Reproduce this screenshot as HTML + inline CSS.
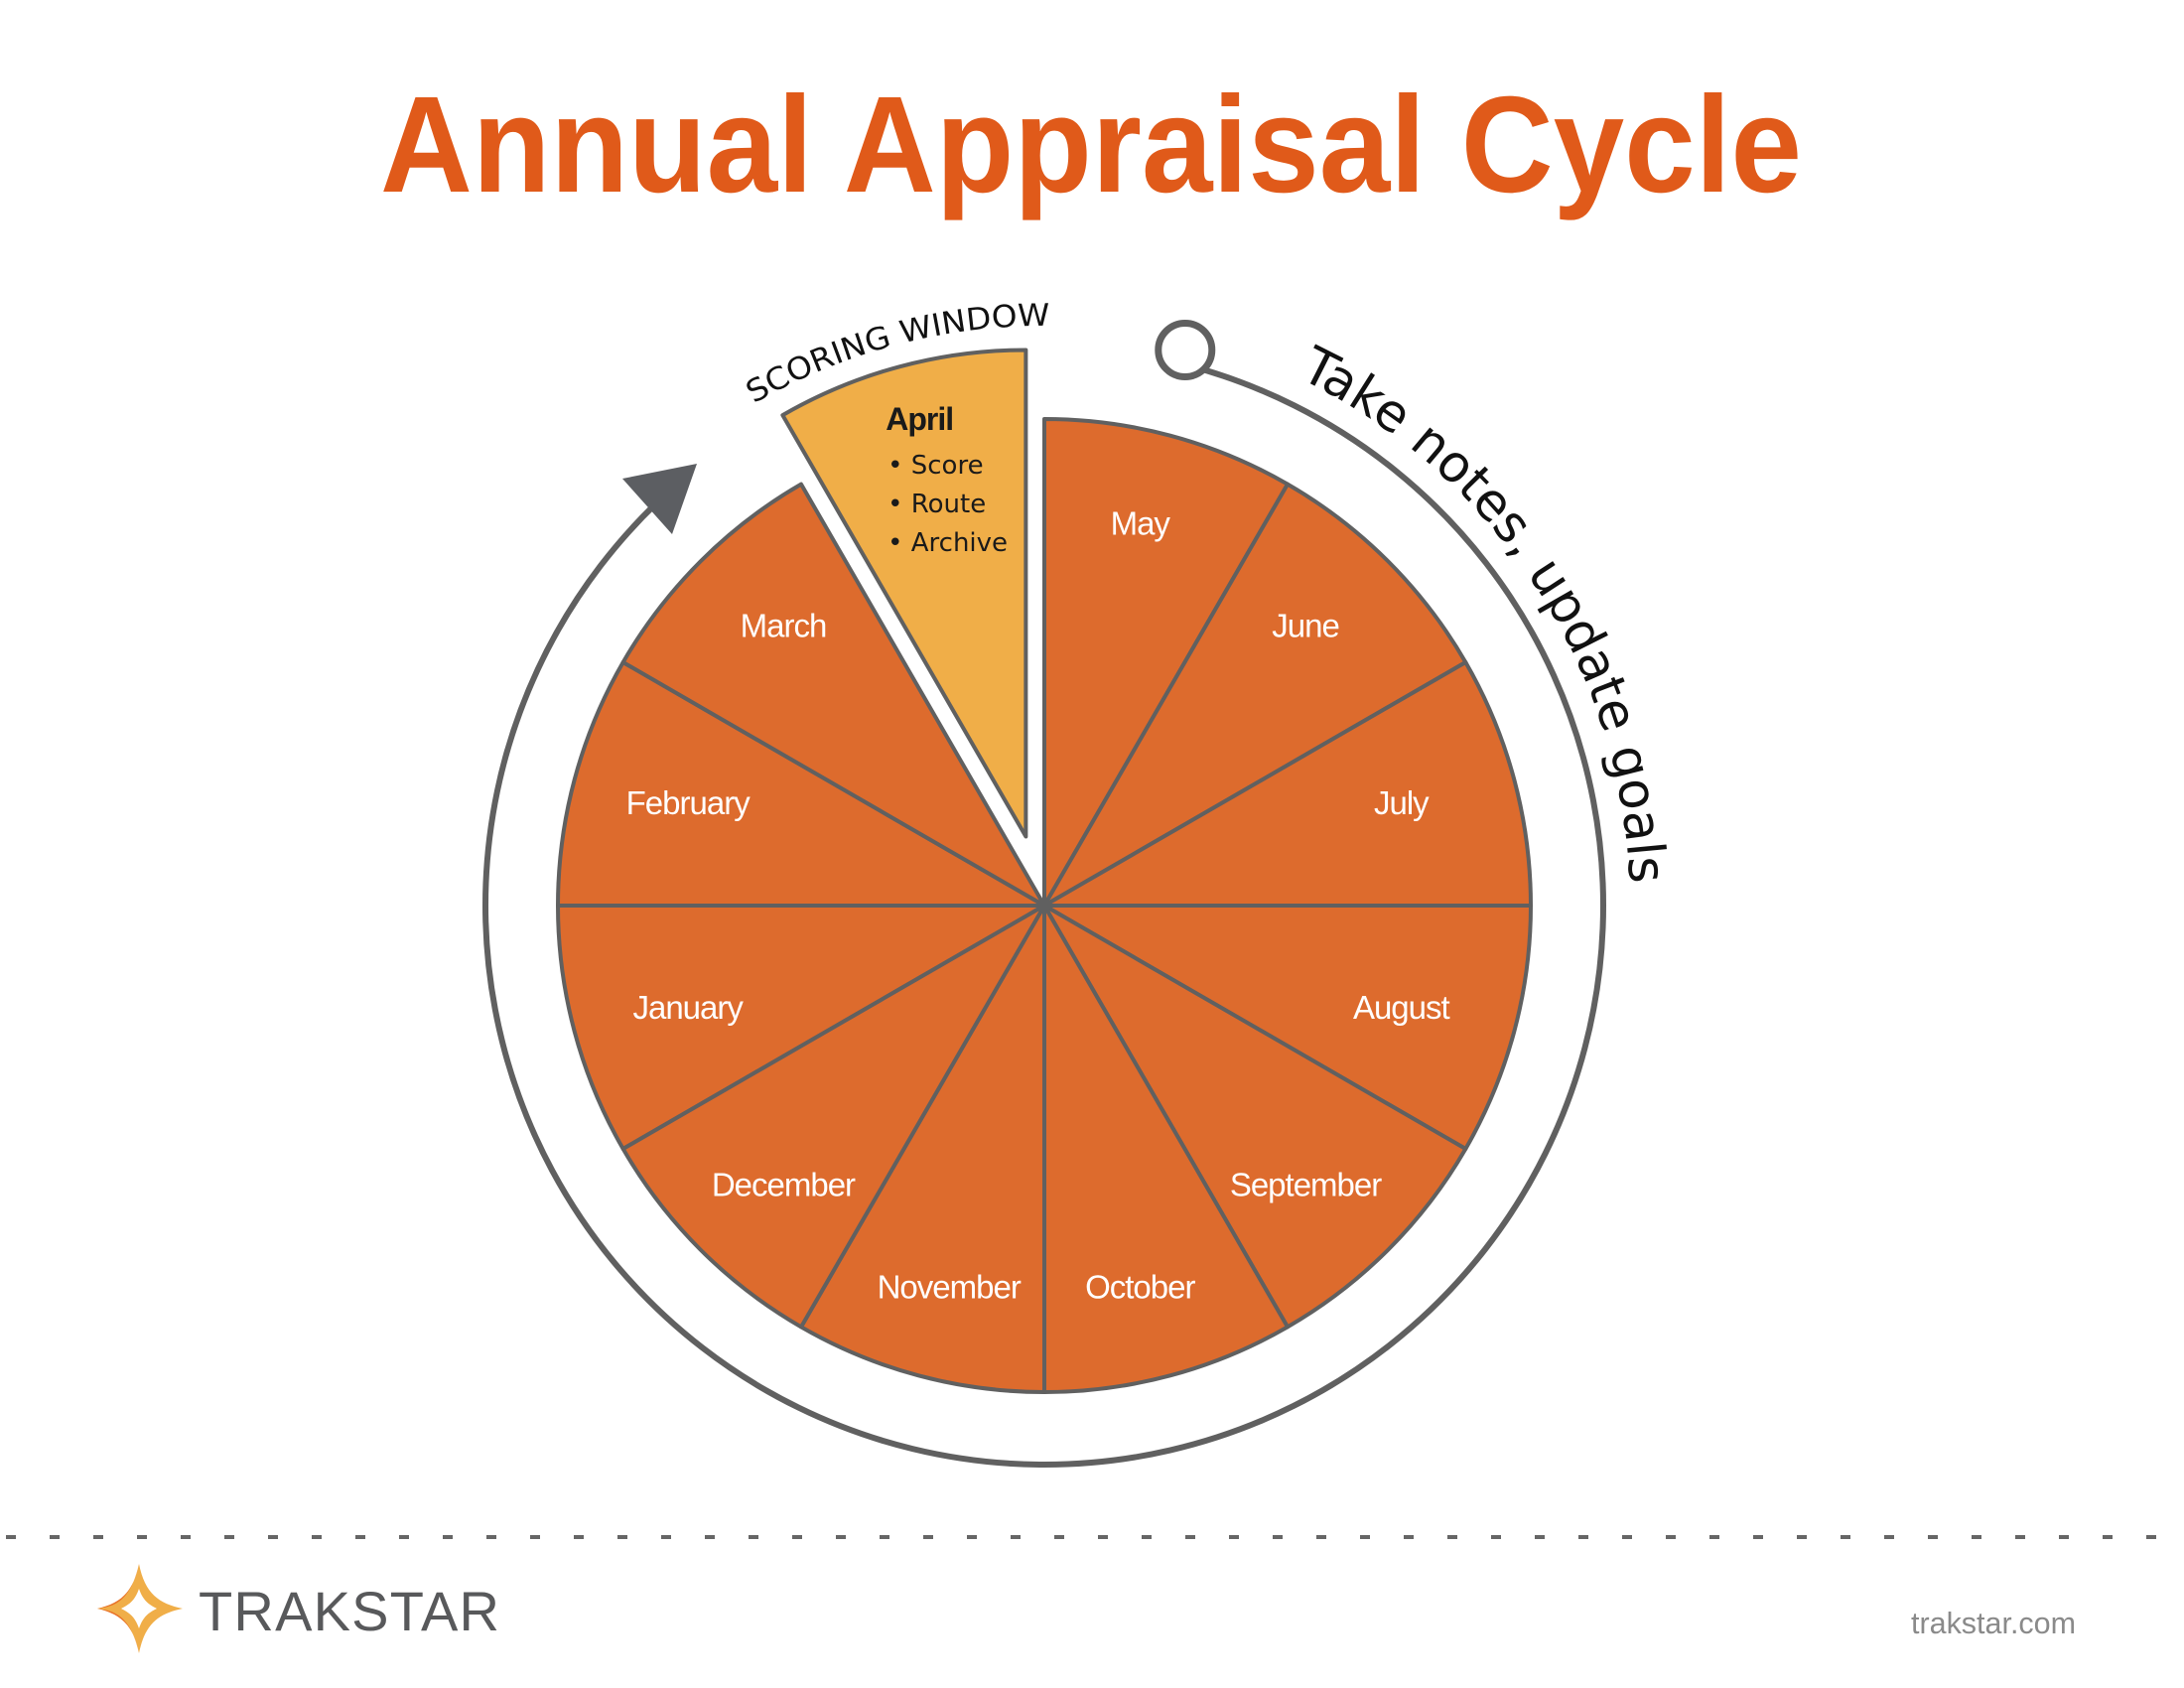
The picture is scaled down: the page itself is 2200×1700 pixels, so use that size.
<!DOCTYPE html>
<html><head><meta charset="utf-8"><style>
html,body{margin:0;padding:0;background:#fff}
svg{display:block}
</style></head><body>
<svg id="chart" width="2200" height="1700" viewBox="0 0 2200 1700" xmlns="http://www.w3.org/2000/svg">
<text x="1099" y="193" text-anchor="middle" font-family="Liberation Sans, sans-serif" font-weight="bold" font-size="138" fill="#e05a1a" textLength="1432" lengthAdjust="spacingAndGlyphs">Annual Appraisal Cycle</text>
<defs></defs>
<g id="wheel"></g>
<g id="ring"></g>
<line x1="6" y1="1548" x2="2200" y2="1548" stroke="#666" stroke-width="4" stroke-dasharray="10 34"/>
<g>
<path d="M140 1575 C146 1605 160 1615 184 1620 C160 1625 146 1635 140 1665 C134 1635 120 1625 98 1620 C120 1615 134 1605 140 1575 Z" fill="#f0ae48"/>
<path d="M140 1665 C134 1635 120 1625 98 1620 C118 1622 132 1630 140 1665 Z M98 1620 C120 1615 134 1605 140 1575 C132 1610 118 1618 98 1620Z" fill="#e8712a"/>
<path d="M140 1600 C144 1612 150 1616 158 1620 C150 1624 144 1628 140 1640 C136 1628 130 1624 122 1620 C130 1616 136 1612 140 1600Z" fill="#fff"/>
</g>
<text x="200" y="1642" font-family="Liberation Sans, sans-serif" font-size="56" fill="#58595b" textLength="303" lengthAdjust="spacing">TRAKSTAR</text>
<text x="1925" y="1645" font-family="Liberation Sans, sans-serif" font-size="31" fill="#8a8a8a" textLength="166" lengthAdjust="spacingAndGlyphs">trakstar.com</text>
</svg>
<script>
const months = ['January','February','March','April','May','June','July','August','September','October','November','December'];
const monthShare = [1,1,1,1,1,1,1,1,1,1,1,1];
const highlightMonth = 'April';
const aprilBullets = ['Score','Route','Archive'];
const ringStartDeg = -75;
const ringEndDeg = 229;
const NS = 'http://www.w3.org/2000/svg';
const cx = 1052, cy = 912, R = 490, RING = 563;
const total = monthShare.reduce((a,b)=>a+b,0);
function angleOf(cum){ return 150 + cum/total*360; }
function pt(deg, r, ox, oy){ const a = deg*Math.PI/180; return [(ox===undefined?cx:ox)+r*Math.cos(a), (oy===undefined?cy:oy)+r*Math.sin(a)]; }
const wheel = document.getElementById('wheel');
let cum = 0;
months.forEach((m,i)=>{
  const s0 = angleOf(cum);
  cum += monthShare[i];
  const s1 = angleOf(cum);
  const mid = (s0+s1)/2;
  let ox = cx, oy = cy;
  const hl = m === highlightMonth;
  if (hl){ const o = pt(mid, 72); ox = o[0]; oy = o[1]; }
  const p0 = pt(s0, R, ox, oy), p1 = pt(s1, R, ox, oy);
  const large = (s1-s0) > 180 ? 1 : 0;
  const path = document.createElementNS(NS,'path');
  path.setAttribute('d', `M${ox},${oy} L${p0[0]},${p0[1]} A${R},${R} 0 ${large} 1 ${p1[0]},${p1[1]} Z`);
  path.setAttribute('fill', hl ? '#f0ae48' : '#dd6b2d');
  path.setAttribute('stroke', '#606060');
  path.setAttribute('stroke-width', '4');
  path.setAttribute('stroke-linejoin', 'round');
  
  
  wheel.appendChild(path);
  if (hl){
    const lp = pt(mid+0.7, 434, ox, oy);
    const t = document.createElementNS(NS,'text');
    t.setAttribute('x', lp[0]); t.setAttribute('y', lp[1]+11);
    t.setAttribute('font-family','Liberation Sans, sans-serif'); t.setAttribute('font-weight','bold');
    t.setAttribute('font-size','32'); t.setAttribute('fill','#1a1a1a'); t.setAttribute('text-anchor','middle');
    t.setAttribute('letter-spacing','-1');
    t.textContent = m;
    
    
    wheel.appendChild(t);
    aprilBullets.forEach((b,j)=>{
      const bt = document.createElementNS(NS,'text');
      bt.setAttribute('x', lp[0]-32); bt.setAttribute('y', lp[1]+55 + j*39);
      bt.setAttribute('font-family','DejaVu Sans, sans-serif'); bt.setAttribute('font-size','26');
      bt.setAttribute('fill','#1a1a1a');
      bt.textContent = '\u2022 ' + b;
      
      
      wheel.appendChild(bt);
    });
  } else {
    const a = mid*Math.PI/180;
    const lx = cx + 372*Math.cos(a), ly = cy + 398*Math.sin(a);
    const t = document.createElementNS(NS,'text');
    t.setAttribute('x', lx); t.setAttribute('y', ly+11);
    t.setAttribute('font-family','Liberation Sans, sans-serif');
    t.setAttribute('font-size','33'); t.setAttribute('fill','#fff'); t.setAttribute('text-anchor','middle');
    t.setAttribute('letter-spacing','-1');
    t.textContent = m;
    
    
    wheel.appendChild(t);
  }
});
const hub = document.createElementNS(NS,'circle');
hub.setAttribute('cx',cx); hub.setAttribute('cy',cy); hub.setAttribute('r','7'); hub.setAttribute('fill','#606060');


wheel.appendChild(hub);

const ring = document.getElementById('ring');
const rs = pt(ringStartDeg, RING), re = pt(ringEndDeg, RING);
const arc = document.createElementNS(NS,'path');
arc.setAttribute('d', `M${rs[0]},${rs[1]} A${RING},${RING} 0 1 1 ${re[0]},${re[1]}`);
arc.setAttribute('fill','none'); arc.setAttribute('stroke','#606060'); arc.setAttribute('stroke-width','6');


ring.appendChild(arc);
const sc = pt(ringStartDeg, RING+8);
const startC = document.createElementNS(NS,'circle');
startC.setAttribute('cx', sc[0]-6); startC.setAttribute('cy', sc[1]-8); startC.setAttribute('r','27');
startC.setAttribute('fill','#fff'); startC.setAttribute('stroke','#606060'); startC.setAttribute('stroke-width','7');


ring.appendChild(startC);
const head = document.createElementNS(NS,'polygon');
head.setAttribute('points','702,467 627,482 677,538');
head.setAttribute('fill','#5c5e62');


ring.appendChild(head);

function arcPath(id, r, a0, a1){
  const p0 = pt(a0, r), p1 = pt(a1, r);
  const p = document.createElementNS(NS,'path');
  p.setAttribute('id', id);
  p.setAttribute('d', `M${p0[0]},${p0[1]} A${r},${r} 0 0 1 ${p1[0]},${p1[1]}`);
  p.setAttribute('fill','none');
  document.querySelector('defs').appendChild(p);
}
arcPath('swArc', 584, -124, -86);
arcPath('tnArc', 590, -67, 0);
function curvedText(id, txt, size, len, off, name){
  const t = document.createElementNS(NS,'text');
  t.setAttribute('font-family','DejaVu Sans, sans-serif'); t.setAttribute('font-size', size); t.setAttribute('fill','#111');
  
  
  const tp = document.createElementNS(NS,'textPath');
  tp.setAttribute('href','#'+id); tp.setAttribute('startOffset', off);
  tp.setAttribute('textLength', len); tp.setAttribute('lengthAdjust','spacingAndGlyphs');
  tp.textContent = txt;
  t.appendChild(tp);
  document.getElementById('chart').appendChild(t);
}
curvedText('swArc','SCORING WINDOW', 31, 312, '40', 'scoring-window-label');
curvedText('tnArc','Take notes, update goals', 52, 640, '28', 'take-notes-label');
</script>
</body></html>
